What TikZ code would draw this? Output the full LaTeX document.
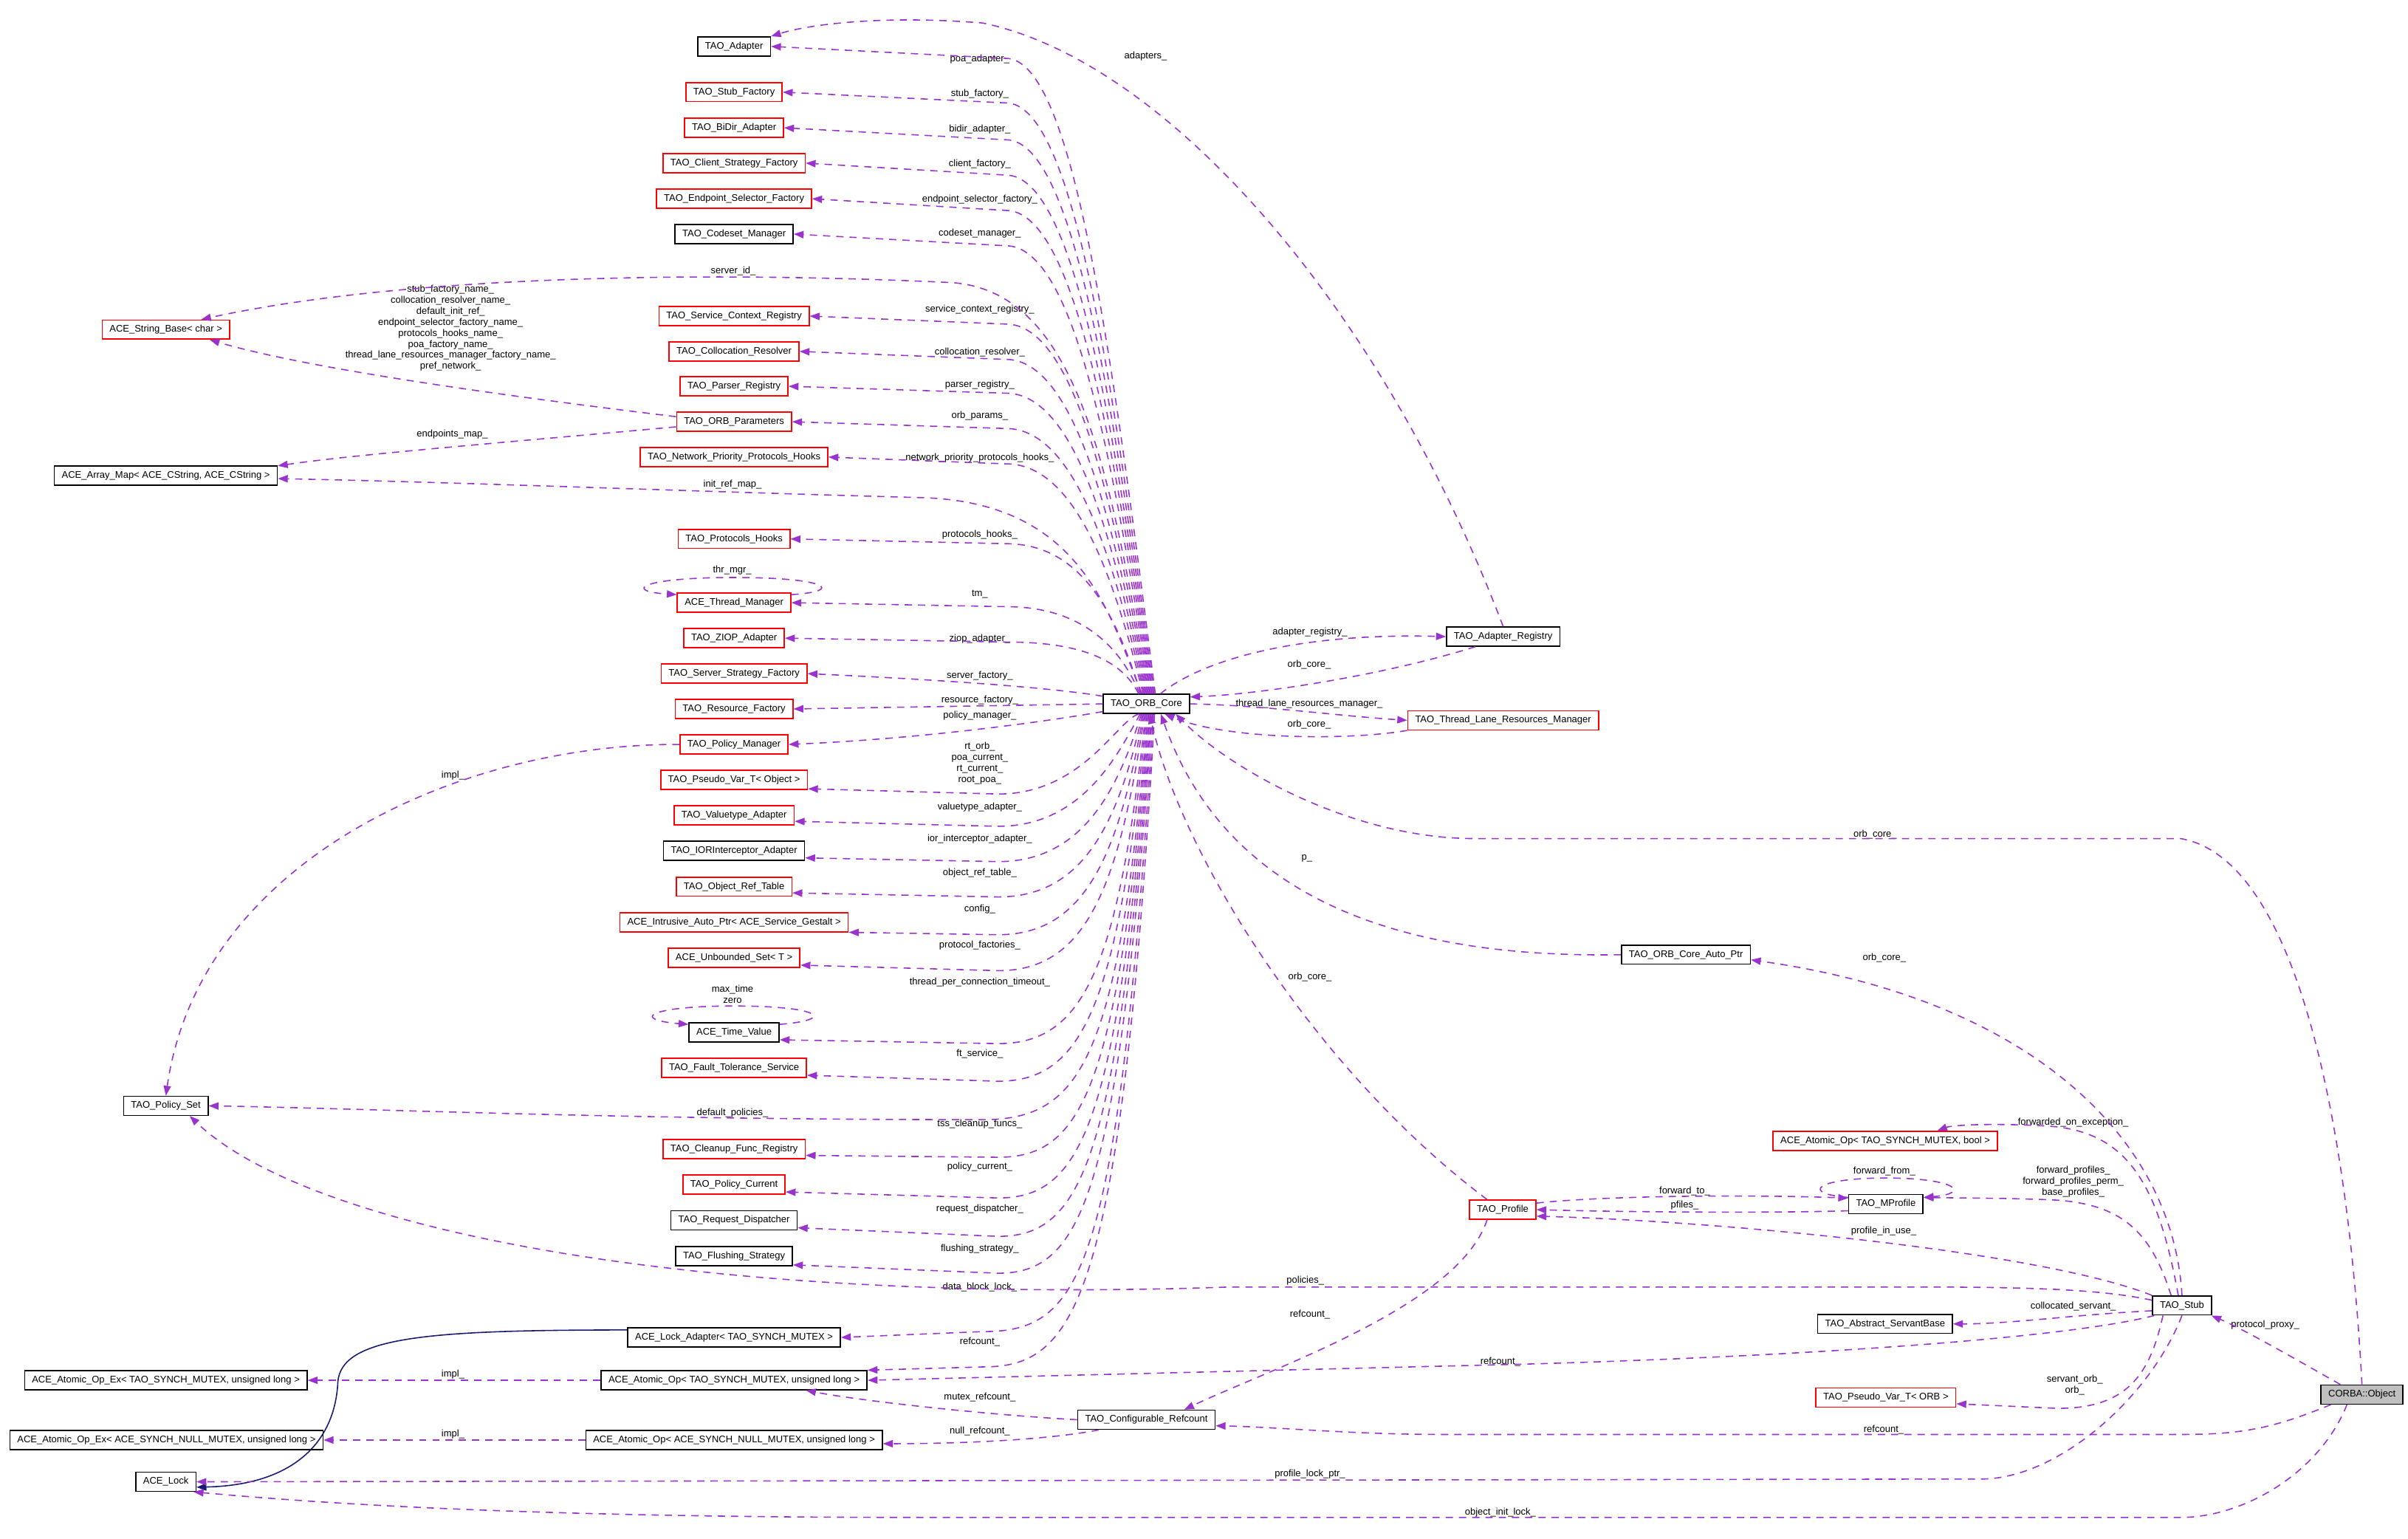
\documentclass[tikz,border=0pt]{standalone}
\usepackage{fontspec}
\setmainfont{Liberation Sans}
\usetikzlibrary{arrows.meta}
\definecolor{edgepurple}{HTML}{9A32CD}
\definecolor{inheritblue}{HTML}{191970}
\definecolor{boxred}{HTML}{FF0000}
\definecolor{rootgray}{HTML}{BFBFBF}
\newcommand{\dfont}{\fontsize{3.7}{4.25}\selectfont}

\begin{document}
\begin{tikzpicture}[x=0.020797cm, y=-0.020797cm,
  cls/.style={draw, fill=white, font=\dfont, inner xsep=0.1cm, inner ysep=0pt, minimum height=0.258cm, line width=0.45pt},
  redcls/.style={cls, draw=boxred},
  rootcls/.style={cls, fill=rootgray},
  lbl/.style={font=\dfont, inner sep=0pt, align=center},
  member/.style={draw=edgepurple, line width=0.45pt, dash pattern=on 2.8pt off 2.3pt, -{Triangle[length=3.8pt,width=2.8pt]}},
  inherit/.style={draw=inheritblue, line width=0.45pt, -{Triangle[length=3.8pt,width=2.8pt]}}]
	\useasboundingbox (0,0) rectangle (1568,1002);
	% classes
	\node[cls] (adapter) at (478,30.2) {TAO\_Adapter};
	\node[redcls] (stubf) at (478,60) {TAO\_Stub\_Factory};
	\node[redcls] (bidir) at (478,83.2) {TAO\_BiDir\_Adapter};
	\node[redcls] (clientsf) at (478,106.2) {TAO\_Client\_Strategy\_Factory};
	\node[redcls] (endpointsf) at (478,129.4) {TAO\_Endpoint\_Selector\_Factory};
	\node[cls] (codeset) at (478,152.4) {TAO\_Codeset\_Manager};
	\node[redcls] (servicectx) at (478,205.8) {TAO\_Service\_Context\_Registry};
	\node[redcls] (colloc) at (478,228.8) {TAO\_Collocation\_Resolver};
	\node[redcls] (parser) at (478,251.5) {TAO\_Parser\_Registry};
	\node[redcls] (params) at (478,274.6) {TAO\_ORB\_Parameters};
	\node[redcls] (npph) at (478,297.6) {TAO\_Network\_Priority\_Protocols\_Hooks};
	\node[redcls] (protohooks) at (478,350.9) {TAO\_Protocols\_Hooks};
	\node[redcls] (tmgr) at (478,392.4) {ACE\_Thread\_Manager};
	\node[redcls] (ziop) at (478,415.5) {TAO\_ZIOP\_Adapter};
	\node[redcls] (ssf) at (478,438.6) {TAO\_Server\_Strategy\_Factory};
	\node[redcls] (resf) at (478,461.6) {TAO\_Resource\_Factory};
	\node[redcls] (polmgr) at (478,484.7) {TAO\_Policy\_Manager};
	\node[redcls] (pvobj) at (478,507.8) {TAO\_Pseudo\_Var\_T< Object >};
	\node[redcls] (valuetype) at (478,530.9) {TAO\_Valuetype\_Adapter};
	\node[cls] (iorint) at (478,554) {TAO\_IORInterceptor\_Adapter};
	\node[redcls] (objref) at (478,577.3) {TAO\_Object\_Ref\_Table};
	\node[redcls] (iap) at (478,600.5) {ACE\_Intrusive\_Auto\_Ptr< ACE\_Service\_Gestalt >};
	\node[redcls] (unbset) at (478,623.6) {ACE\_Unbounded\_Set< T >};
	\node[cls] (timeval) at (478,672.2) {ACE\_Time\_Value};
	\node[redcls] (ftserv) at (478,695.3) {TAO\_Fault\_Tolerance\_Service};
	\node[redcls] (cleanup) at (478,748.2) {TAO\_Cleanup\_Func\_Registry};
	\node[redcls] (polcur) at (478,771.3) {TAO\_Policy\_Current};
	\node[cls] (reqdisp) at (478,794.6) {TAO\_Request\_Dispatcher};
	\node[cls] (flush) at (478,817.8) {TAO\_Flushing\_Strategy};
	\node[cls] (lockad) at (478,870.8) {ACE\_Lock\_Adapter< TAO\_SYNCH\_MUTEX >};
	\node[cls] (aotao) at (478,898.7) {ACE\_Atomic\_Op< TAO\_SYNCH\_MUTEX, unsigned long >};
	\node[cls] (aonull) at (478,937.6) {ACE\_Atomic\_Op< ACE\_SYNCH\_NULL\_MUTEX, unsigned long >};
	\node[redcls] (strbase) at (108,214.6) {ACE\_String\_Base< char >};
	\node[cls] (arraymap) at (108,309.7) {ACE\_Array\_Map< ACE\_CString, ACE\_CString >};
	\node[cls] (policyset) at (108,720) {TAO\_Policy\_Set};
	\node[cls] (aoextao) at (108,898.7) {ACE\_Atomic\_Op\_Ex< TAO\_SYNCH\_MUTEX, unsigned long >};
	\node[cls] (aoexnull) at (108.4,937.6) {ACE\_Atomic\_Op\_Ex< ACE\_SYNCH\_NULL\_MUTEX, unsigned long >};
	\node[cls] (lock) at (108,964.8) {ACE\_Lock};
	\node[cls] (core) at (746.5,458.3) {TAO\_ORB\_Core};
	\node[cls] (areg) at (978.8,414.5) {TAO\_Adapter\_Registry};
	\node[redcls] (tlrm) at (978.8,469) {TAO\_Thread\_Lane\_Resources\_Manager};
	\node[cls] (autoptr) at (1097.8,621.6) {TAO\_ORB\_Core\_Auto\_Ptr};
	\node[redcls] (aobool) at (1227.6,742.8) {ACE\_Atomic\_Op< TAO\_SYNCH\_MUTEX, bool >};
	\node[cls] (mprofile) at (1228,784) {TAO\_MProfile};
	\node[redcls] (profile) at (978.5,787.6) {TAO\_Profile};
	\node[cls] (stub) at (1420.8,850) {TAO\_Stub};
	\node[cls] (asb) at (1227.5,862) {TAO\_Abstract\_ServantBase};
	\node[redcls] (porb) at (1228,910) {TAO\_Pseudo\_Var\_T< ORB >};
	\node[cls] (cr) at (746.5,924.4) {TAO\_Configurable\_Refcount};
	\node[rootcls] (obj) at (1538,908) {CORBA::Object};
	% member names
	\node[lbl] (lpoa) at (638,38.5) {poa\_adapter\_};
	\node[lbl] (lstubf) at (638,61) {stub\_factory\_};
	\node[lbl] (lbidir) at (638,84) {bidir\_adapter\_};
	\node[lbl] (lclient) at (638,107) {client\_factory\_};
	\node[lbl] (lendpoint) at (638,130) {endpoint\_selector\_factory\_};
	\node[lbl] (lcodeset) at (638,152) {codeset\_manager\_};
	\node[lbl] (lserverid) at (477.5,176.3) {server\_id\_};
	\node[lbl] (lservicectx) at (638,201.3) {service\_context\_registry\_};
	\node[lbl] (lcolloc) at (638,229.2) {collocation\_resolver\_};
	\node[lbl] (lparser) at (638,250.5) {parser\_registry\_};
	\node[lbl] (lparams) at (638,271) {orb\_params\_};
	\node[lbl] (lnpph) at (638,298.3) {network\_priority\_protocols\_hooks\_};
	\node[lbl] (linitref) at (477,315.6) {init\_ref\_map\_};
	\node[lbl] (lprotohooks) at (638,348) {protocols\_hooks\_};
	\node[lbl] (ltm) at (638,386.8) {tm\_};
	\node[lbl] (lziop) at (638,416) {ziop\_adapter\_};
	\node[lbl] (lssf) at (638,440) {server\_factory\_};
	\node[lbl] (lresf) at (638,455.8) {resource\_factory\_};
	\node[lbl] (lpolmgr) at (638,466) {policy\_manager\_};
	\node[lbl] (lpvobj) at (638,497) {rt\_orb\_\\poa\_current\_\\rt\_current\_\\root\_poa\_};
	\node[lbl] (lvaluetype) at (638,525.4) {valuetype\_adapter\_};
	\node[lbl] (liorint) at (638,546.2) {ior\_interceptor\_adapter\_};
	\node[lbl] (lobjref) at (638,568.6) {object\_ref\_table\_};
	\node[lbl] (liap) at (638,592) {config\_};
	\node[lbl] (lunbset) at (638,615.7) {protocol\_factories\_};
	\node[lbl] (ltimeval) at (638,639.5) {thread\_per\_connection\_timeout\_};
	\node[lbl] (lftserv) at (638,686.4) {ft\_service\_};
	\node[lbl] (ldefpol) at (477,724.9) {default\_policies\_};
	\node[lbl] (lcleanup) at (638,731.8) {tss\_cleanup\_funcs\_};
	\node[lbl] (lpolcur) at (638,760) {policy\_current\_};
	\node[lbl] (lreqdisp) at (638,787) {request\_dispatcher\_};
	\node[lbl] (lflush) at (638,813) {flushing\_strategy\_};
	\node[lbl] (llockad) at (638,838) {data\_block\_lock\_};
	\node[lbl] (laotao) at (638,873.5) {refcount\_};
	\node[lbl] (lmutex) at (638,909.7) {mutex\_refcount\_};
	\node[lbl] (lnull) at (638,932) {null\_refcount\_};
	\node[lbl] (limpla) at (295,895) {impl\_};
	\node[lbl] (limplb) at (295,933.7) {impl\_};
	\node[lbl] (limplc) at (295,505) {impl\_};
	\node[lbl] (lstrbase) at (293.4,213.6) {stub\_factory\_name\_\\collocation\_resolver\_name\_\\default\_init\_ref\_\\endpoint\_selector\_factory\_name\_\\protocols\_hooks\_name\_\\poa\_factory\_name\_\\thread\_lane\_resources\_manager\_factory\_name\_\\pref\_network\_};
	\node[lbl] (lendpoints) at (294.5,282.7) {endpoints\_map\_};
	\node[lbl] (lthrmgr) at (476.8,371.2) {thr\_mgr\_};
	\node[lbl] (ltimeself) at (477,647.5) {max\_time\\zero};
	\node[lbl] (ladapters) at (746,36.5) {adapters\_};
	\node[lbl] (lareg) at (853,411.6) {adapter\_registry\_};
	\node[lbl] (lregcore) at (852.5,433) {orb\_core\_};
	\node[lbl] (ltlrm) at (852.5,458.3) {thread\_lane\_resources\_manager\_};
	\node[lbl] (ltlrmcore) at (852.5,471.7) {orb\_core\_};
	\node[lbl] (lobjcore) at (1221,543.4) {orb\_core\_};
	\node[lbl] (lp) at (851,559) {p\_};
	\node[lbl] (lprofcore) at (853,636) {orb\_core\_};
	\node[lbl] (lstubcore) at (1227,623.6) {orb\_core\_};
	\node[lbl] (lfwdexc) at (1350,731) {forwarded\_on\_exception\_};
	\node[lbl] (lfwdfrom) at (1227,762.5) {forward\_from\_};
	\node[lbl] (lfwdprof) at (1350,769.3) {forward\_profiles\_\\forward\_profiles\_perm\_\\base\_profiles\_};
	\node[lbl] (lfwdto) at (1097,775.6) {forward\_to\_};
	\node[lbl] (lpfiles) at (1097,785) {pfiles\_};
	\node[lbl] (linuse) at (1226.6,801.6) {profile\_in\_use\_};
	\node[lbl] (lpolicies) at (850,834) {policies\_};
	\node[lbl] (lprofref) at (853,856) {refcount\_};
	\node[lbl] (lcolloserv) at (1350,850.6) {collocated\_servant\_};
	\node[lbl] (lproxy) at (1475,862.5) {protocol\_proxy\_};
	\node[lbl] (lstubref) at (977,886.5) {refcount\_};
	\node[lbl] (lservorb) at (1351,902) {servant\_orb\_\\orb\_};
	\node[lbl] (lobjref2) at (1226.6,930.7) {refcount\_};
	\node[lbl] (lproflock) at (853,960) {profile\_lock\_ptr\_};
	\node[lbl] (linitlock) at (977,984.6) {object\_init\_lock\_};
	% TAO_ORB_Core members above it
	\draw[member] ([xshift=0.12cm]core.north) .. controls (725,240) and (700,38) .. (655,38) -- (adapter.east);
	\draw[member] ([xshift=0.105cm]core.north) .. controls (725,255) and (700,67) .. (655,67) -- (stubf.east);
	\draw[member] ([xshift=0.09cm]core.north) .. controls (725,267) and (700,91) .. (655,91) -- (bidir.east);
	\draw[member] ([xshift=0.075cm]core.north) .. controls (725,279) and (700,114) .. (655,114) -- (clientsf.east);
	\draw[member] ([xshift=0.06cm]core.north) .. controls (725,290) and (700,137) .. (655,137) -- (endpointsf.east);
	\draw[member] ([xshift=0.045cm]core.north) .. controls (725,302) and (700,160) .. (655,160) -- (codeset.east);
	\draw[member] ([xshift=0.03cm]core.north) .. controls (722,300) and (700,190) .. (620,184) .. controls (450,176) and (260,180) .. (strbase.16);
	\draw[member] ([xshift=0.015cm]core.north) .. controls (725,328) and (700,211) .. (655,211) -- (servicectx.east);
	\draw[member] (core.north) .. controls (725,340) and (700,234) .. (655,234) -- (colloc.east);
	\draw[member] ([xshift=-0.015cm]core.north) .. controls (725,351) and (700,256) .. (655,256) -- (parser.east);
	\draw[member] ([xshift=-0.03cm]core.north) .. controls (725,363) and (700,279) .. (655,279) -- (params.east);
	\draw[member] ([xshift=-0.045cm]core.north) .. controls (725,374) and (700,302) .. (655,302) -- (npph.east);
	\draw[member] ([xshift=-0.06cm]core.north) .. controls (722,400) and (705,327) .. (600,324) .. controls (450,320) and (300,314) .. ([yshift=-0.04cm]arraymap.east);
	\draw[member] ([xshift=-0.075cm]core.north) .. controls (727,401) and (705,354) .. (655,354) -- (protohooks.east);
	\draw[member] ([xshift=-0.09cm]core.north) .. controls (730,422) and (705,395) .. (655,395) -- (tmgr.east);
	\draw[member] ([xshift=-0.105cm]core.north) .. controls (732,433) and (710,418) .. (655,418) -- (ziop.east);
	\draw[member] (core.170) .. controls (680,447) and (600,442) .. (ssf.east);
	\draw[member] (core.west) -- (resf.east);
	\draw[member] (core.190) .. controls (680,470) and (600,481) .. (polmgr.east);
	% TAO_ORB_Core members below it
	\draw[member] ([xshift=-0.1cm]core.south) .. controls (728,468) and (705,517) .. (650,517) -- ([yshift=-0.12cm]pvobj.east);
	\draw[member] ([xshift=-0.085cm]core.south) .. controls (728,491) and (705,538) .. (650,538) -- ([yshift=-0.08cm]valuetype.east);
	\draw[member] ([xshift=-0.07cm]core.south) .. controls (728,514) and (705,561) .. (650,561) -- ([yshift=-0.095cm]iorint.east);
	\draw[member] ([xshift=-0.055cm]core.south) .. controls (728,537) and (705,584) .. (650,584) -- ([yshift=-0.085cm]objref.east);
	\draw[member] ([xshift=-0.04cm]core.south) .. controls (728,560) and (705,608.6) .. (650,608.6) -- (iap.-5);
	\draw[member] ([xshift=-0.025cm]core.south) .. controls (728,583) and (705,632) .. (650,632) -- ([yshift=-0.1cm]unbset.east);
	\draw[member] ([xshift=-0.01cm]core.south) .. controls (728,632) and (705,679.5) .. (650,679.5) -- ([yshift=-0.1cm]timeval.east);
	\draw[member] ([xshift=0.005cm]core.south) .. controls (728,655) and (705,704) .. (650,704) -- ([yshift=-0.1cm]ftserv.east);
	\draw[member] ([xshift=0.02cm]core.south) .. controls (728,689) and (705,729) .. (640,729) .. controls (400,729) and (250,722) .. (policyset.east);
	\draw[member] ([xshift=0.035cm]core.south) .. controls (728,708) and (705,753.5) .. (650,753.5) -- ([yshift=-0.085cm]cleanup.east);
	\draw[member] ([xshift=0.05cm]core.south) .. controls (728,731) and (705,780) .. (650,780) -- ([yshift=-0.1cm]polcur.east);
	\draw[member] ([xshift=0.065cm]core.south) .. controls (728,755) and (705,805) .. (650,805) -- ([yshift=-0.1cm]reqdisp.east);
	\draw[member] ([xshift=0.08cm]core.south) .. controls (728,778) and (705,829) .. (650,829) -- ([yshift=-0.12cm]flush.east);
	\draw[member] ([xshift=0.095cm]core.south) .. controls (728,830) and (705,867) .. (640,867) -- (lockad.east);
	\draw[member] ([xshift=0.11cm]core.south) .. controls (730,850) and (700,890) .. (640,890) -- (aotao.north east);
	% self references
	\draw[member] (tmgr.8) .. controls (550,385) and (540,376) .. (478,376) .. controls (416,376) and (406,385) .. (tmgr.172);
	\draw[member] (timeval.10) .. controls (545,664) and (535,655) .. (478,655) .. controls (421,655) and (411,664) .. (timeval.170);
	\draw[member] (mprofile.170) .. controls (1172,777) and (1182,767) .. (1228,767) .. controls (1274,767) and (1284,777) .. (mprofile.10);
	% left side
	\draw[member] (params.175) .. controls (330,258) and (200,240) .. (strbase.-13);
	\draw[member] (params.185) .. controls (330,288) and (230,296) .. (arraymap.5);
	\draw[member] (polmgr.west) .. controls (300,484) and (130,560) .. (policyset.north);
	\draw[member] (aotao.west) -- (aoextao.east);
	\draw[member] (aonull.west) -- (aoexnull.east);
	\draw[inherit] (lockad.176) .. controls (280,866) and (222,870) .. (220,900) .. controls (218,940) and (190,967) .. (lock.-10);
	% registry, lanes, auto pointer
	\draw[member] (areg.north) .. controls (900,200) and (760,40) .. (640,15) .. controls (580,10) and (530,15) .. (adapter.north east);
	\draw[member] (core.36) .. controls (785,428) and (850,412) .. (areg.west);
	\draw[member] (areg.200) .. controls (900,440) and (820,452) .. (core.9);
	\draw[member] (core.east) .. controls (820,459) and (870,466) .. (tlrm.west);
	\draw[member] (tlrm.south west) .. controls (880,482) and (800,482) .. (core.-29);
	\draw[member] (autoptr.west) .. controls (920,624) and (800,590) .. (core.-35);
	\draw[member] (profile.147) .. controls (860,700) and (770,560) .. (core.-72);
	\draw[member] (obj.north) .. controls (1530,750) and (1500,560) .. (1420,546) -- (960,546) .. controls (880,546) and (800,500) .. (core.-19);
	\draw[member] (stub.north) .. controls (1415,740) and (1320,650) .. ([yshift=-0.07cm]autoptr.east);
	% stub and profiles
	\draw[member] (stub.110) .. controls (1405,770) and (1385,735) .. (1330,733) .. controls (1290,731) and (1270,733) .. (aobool.11);
	\draw[member] (stub.137) .. controls (1400,800) and (1380,782) .. (1330,781) .. controls (1300,780) and (1275,780) .. (mprofile.10);
	\draw[member] (stub.north west) .. controls (1330,815) and (1120,795) .. (profile.-11);
	\draw[member] (profile.11) .. controls (1050,778) and (1150,778) .. (mprofile.171);
	\draw[member] (mprofile.190) .. controls (1150,790) and (1050,789) .. (profile.east);
	\draw[member] (profile.-147) .. controls (950,850) and (830,890) .. (cr.15);
	\draw[member] (stub.190) .. controls (1350,856) and (1310,862) .. (asb.east);
	\draw[member] (stub.170) .. controls (1370,840) and (1330,838) .. (1250,838) -- (800,838) .. controls (450,850) and (200,800) .. (policyset.-23);
	\draw[member] (stub.200) .. controls (1350,870) and (1200,882) .. (1000,888) -- (aotao.east);
	\draw[member] (stub.208) .. controls (1400,895) and (1385,917) .. (1340,917) -- (porb.-5);
	\draw[member] (stub.south) .. controls (1400,910) and (1340,963) .. (1290,963) -- (lock.east);
	% CORBA::Object
	\draw[member] (obj.155) .. controls (1495,885) and (1460,865) .. (stub.-19);
	\draw[member] (obj.198) .. controls (1480,930) and (1460,934) .. (1420,934) -- (940,934) .. controls (880,934) and (830,929) .. (cr.-5);
	\draw[member] (obj.-146) .. controls (1510,960) and (1460,988) .. (1420,988) -- (600,988) .. controls (330,988) and (200,978) .. (lock.-20);
	% refcount internals
	\draw[member] (cr.west) .. controls (640,921) and (560,912) .. (aotao.-8);
	\draw[member] (cr.192) .. controls (680,938) and (620,940) .. ([yshift=-0.05cm]aonull.east);
\end{tikzpicture}
\end{document}
